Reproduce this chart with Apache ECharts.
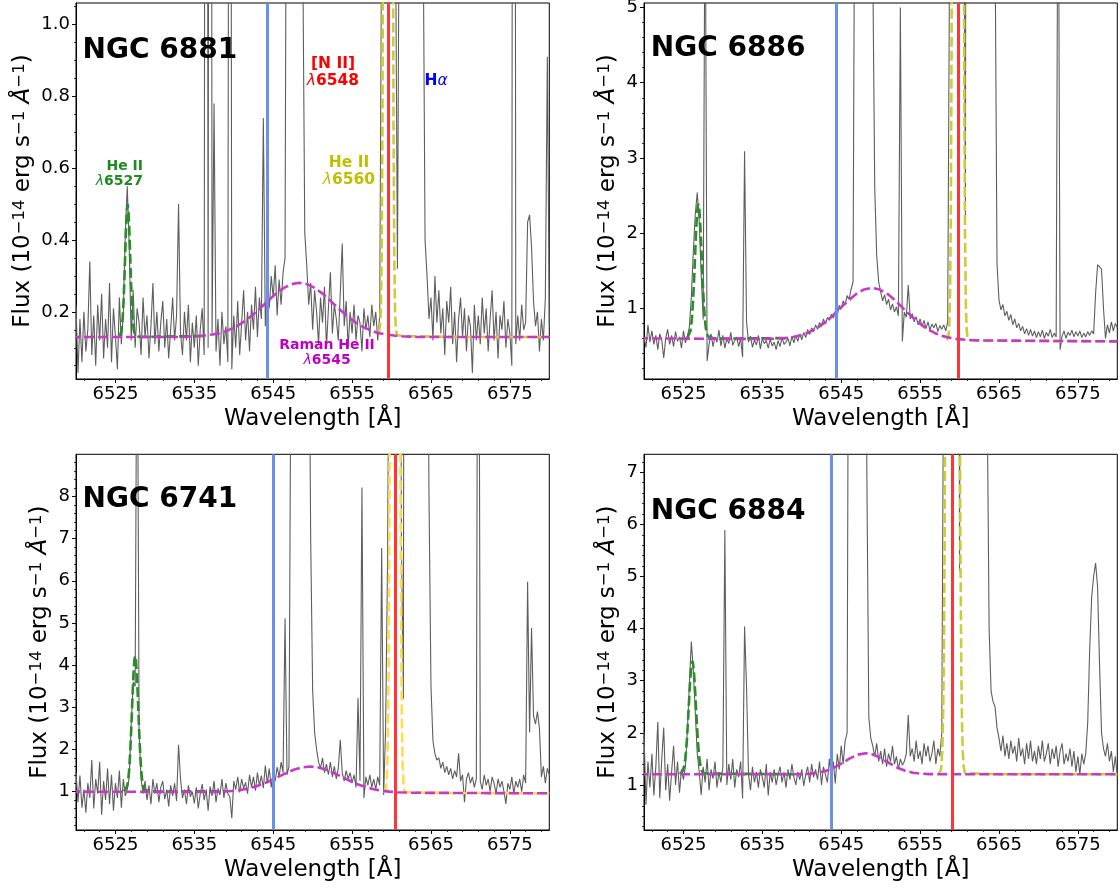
<!DOCTYPE html>
<html>
<head>
<meta charset="utf-8">
<script src="https://cdn.jsdelivr.net/npm/echarts@6/dist/echarts.min.js"></script>
<style>
  html, body { margin: 0; padding: 0; background: #fff; }
  #chart { width: 1120px; height: 889px; }
</style>
</head>
<body>
<div id="chart"></div>
<script>
// Spectra sampled on a regular wavelength grid (Angstrom), 0.25 A per sample from 6520 to 6580.
const WL_START = 6520;
const WL_STEP = 0.25;

// Observed flux, NGC 6881 (10^-14 erg s^-1 A^-1); one row per Angstrom
const flux6881 = [
  0.22, 0.03, 0.18, 0.06,   0.20, 0.09, 0.15, 0.34,   0.08, 0.19, 0.05, 0.22,   0.12, 0.25, 0.07, 0.18,
  0.10, 0.28, 0.06, 0.21,   0.13, 0.04, 0.24, 0.11,   0.20, 0.42, 0.55, 0.38,   0.12, 0.26, 0.10, 0.21,
  0.17, 0.08, 0.24, 0.13,   0.19, 0.07, 0.16, 0.28,   0.11, 0.20, 0.09, 0.17,   0.23, 0.10, 0.18, 0.07,
  0.15, 0.24, 0.12, 0.19,   0.50, 0.14, 0.08, 0.20,   0.12, 0.22, 0.06, 0.17,   0.10, 0.19, 0.05, 0.15,
  0.21, 0.08, 5.0, 0.10,    6.0, 0.14, 0.78, 0.09,    0.18, 0.05, 0.20, 0.11,   0.16, 0.06, 4.0, 0.04,
  0.19, 0.10, 0.23, 0.08,   0.17, 0.26, 0.12, 0.20,   0.09, 0.22, 0.15, 0.27,   0.13, 0.24, 0.18, 0.74,
  0.16, 0.28, 0.21, 0.30,   0.24, 0.33, 0.19, 0.29,   0.22, 0.31, 0.35, 2.2,    9.0, 25, 40, 40,
  25, 10, 3.0, 1.2,         0.42, 0.33, 0.22, 0.28,   0.15, 0.26, 0.20, 0.11,   0.24, 0.17, 0.27, 0.10,
  0.21, 0.31, 0.14, 0.22,   0.18, 0.12, 0.25, 0.39,   0.16, 0.23, 0.10, 0.20,   0.14, 0.22, 0.12, 0.19,
  0.17, 0.09, 0.21, 0.15,   0.19, 0.13, 0.22, 0.16,   0.20, 0.12, 0.19, 1.3,    12, 30, 40, 35,
  15, 8.0, 1.3, 0.32,       1.5, 20, 50, 80,          100, 100, 90, 70,         45, 25, 12, 5.0,
  1.3, 0.40, 0.30, 0.18,    0.24, 0.12, 0.30, 0.17,   0.26, 0.14, 0.21, 0.08,   0.23, 0.17, 0.27, 0.11,
  0.20, 0.06, 0.18, 0.24,   0.13, 0.21, 0.09, 0.19,   0.16, 0.03, 0.22, 0.12,   0.19, 0.11, 0.24, 0.14,
  0.21, 0.09, 0.18, 0.26,   0.12, 0.20, 0.07, 0.19,   0.15, 0.23, 0.10, 0.18,   0.14, 0.05, 6.0, 0.11,
  0.19, 0.12, 0.22, 0.15,   0.17, 0.45, 0.47, 0.38,   0.23, 0.16, 0.20, 0.09,   0.18, 0.12, 0.24, 0.91,
  0.16
];

// Observed flux, NGC 6886
const flux6886 = [
  0.62, 0.48, 0.78, 0.55,   0.70, 0.52, 0.64, 0.45,   0.66, 0.58, 0.34, 0.60,   0.72, 0.52, 0.64, 0.49,
  0.69, 0.56, 0.62, 0.47,   0.70, 0.54, 0.63, 0.75,   1.15, 1.75, 2.25, 2.54,   2.15, 1.45, 0.85, 7.0,
  0.30, 0.52, 0.66, 0.49,   0.62, 0.55, 0.71, 0.50,   0.64, 0.47, 0.60, 0.53,   0.68, 0.51, 0.57, 0.62,
  0.49, 0.60, 0.35, 3.09,   0.82, 0.55, 0.63, 0.48,   0.58, 0.51, 0.64, 0.46,   0.60, 0.53, 0.57, 0.47,
  0.59, 0.50, 0.55, 0.45,   0.57, 0.49, 0.61, 0.52,   0.55, 0.60, 0.50, 0.63,   0.54, 0.64, 0.56, 0.66,
  0.58, 0.68, 0.61, 0.72,   0.65, 0.74, 0.69, 0.78,   0.72, 0.81, 0.76, 0.86,   0.79, 0.88, 0.84, 0.92,
  0.87, 0.96, 0.91, 1.04,   0.99, 1.10, 1.05, 1.17,   1.12, 1.25, 1.35, 8.0,    30, 60, 80, 80,
  60, 35, 18, 9.0,          5.6, 2.6, 1.7, 1.35,      1.22, 1.10, 1.18, 1.05,   1.12, 0.98, 1.06, 0.95,
  1.02, 0.90, 5.0, 0.56,    0.95, 0.88, 1.31, 0.86,   0.93, 0.82, 0.89, 0.78,   0.86, 0.76, 0.84, 0.73,
  0.82, 0.71, 0.79, 0.74,   0.80, 0.69, 0.77, 0.72,   0.78, 0.70, 0.82, 6.0,    40, 120, 200, 220,
  150, 60, 8.0, 2.2,        30, 100, 200, 300,        350, 350, 300, 200,       120, 60, 30, 15,
  12, 8.0, 6.0, 1.6,        1.11, 0.98, 1.05, 0.90,   0.96, 0.84, 0.92, 0.78,   0.86, 0.74, 0.80, 0.70,
  0.76, 0.66, 0.73, 0.64,   0.72, 0.63, 0.70, 0.61,   0.69, 0.62, 0.71, 0.60,   0.68, 0.63, 0.72, 0.61,
  0.67, 0.62, 8.0, 0.45,    0.63, 0.70, 0.60, 0.68,   0.64, 0.71, 0.62, 0.69,   0.63, 0.70, 0.61, 0.67,
  0.62, 0.69, 0.64, 0.70,   0.66, 1.20, 1.58, 1.58,   1.52, 1.00, 0.60, 0.78,   0.67, 0.82, 0.70, 0.80,
  0.74
];

// Observed flux, NGC 6741
const flux6741 = [
  1.45, 0.75, 1.38, 0.62,   1.05, 0.50, 1.20, 0.85,   1.75, 0.60, 1.30, 0.95,   1.70, 0.45, 1.25, 0.80,
  1.55, 0.70, 1.40, 0.55,   1.20, 0.85, 1.50, 0.62,   1.30, 0.90, 1.05, 1.35,   2.60, 3.60, 3.50, 14.0,
  2.40, 1.30, 0.95, 1.25,   0.80, 1.15, 0.70, 1.30,   0.95, 1.20, 0.75, 1.10,   1.25, 0.82, 1.05, 0.65,
  1.15, 0.90, 1.20, 0.78,   2.11, 1.30, 0.85, 1.05,   0.70, 1.15, 0.88, 1.00,   0.72, 1.10, 0.60, 0.95,
  1.18, 0.80, 1.05, 0.55,   1.12, 0.90, 1.25, 0.75,   1.08, 0.92, 1.30, 0.85,   1.20, 0.95, 0.88, 0.37,
  1.25, 1.05, 1.35, 0.98,   1.30, 1.08, 1.22, 0.95,   1.40, 1.10, 1.35, 1.02,   1.45, 1.15, 1.38, 1.08,
  1.62, 1.20, 1.55, 1.10,   1.45, 1.25, 1.58, 1.35,   1.70, 1.45, 5.11, 1.40,   1.60, 12, 60, 120,
  150, 150, 120, 70,        35, 18, 14, 7.0,          3.4, 2.4, 2.0, 1.7,       1.55, 1.80, 1.45, 1.65,
  1.40, 1.70, 1.35, 1.60,   1.30, 1.55, 2.23, 1.45,   1.25, 1.50, 1.30, 1.45,   1.20, 1.40, 1.10, 3.22,
  1.25, 8.21, 0.85, 1.35,   1.15, 1.40, 1.10, 1.30,   1.05, 1.35, 1.15, 6.78,   0.92, 2.5, 6.5, 15,
  40, 70, 80, 60,           25, 7.0, 3.2, 40,         150, 250, 250, 200,       120, 70, 40, 25,
  20, 17, 15, 8.0,          3.5, 2.2, 1.9, 1.75,      1.80, 1.55, 1.70, 1.45,   1.60, 1.40, 1.55, 1.30,
  1.50, 1.35, 1.91, 1.25,   1.40, 0.75, 1.30, 1.45,   1.20, 1.35, 1.10, 1.30,   20, 1.25, 1.05, 1.40,
  1.15, 1.30, 1.00, 1.35,   1.20, 0.95, 1.30, 1.10,   1.25, 1.00, 0.71, 1.20,   1.05, 1.35, 0.95, 1.25,
  1.10, 1.30, 1.00, 1.40,   1.20, 5.98, 2.40, 4.88,   2.80, 2.60, 2.90, 2.50,   1.35, 1.60, 1.20, 1.55,
  1.40
];

// Observed flux, NGC 6884
const flux6884 = [
  2.02, 0.62, 1.45, 0.95,   1.60, 0.80, 1.35, 2.21,   0.75, 1.50, 2.10, 0.90,   1.40, 0.70, 1.25, 1.75,
  1.00, 1.45, 0.85, 1.30,   1.10, 1.35, 2.05, 2.92,   3.75, 3.20, 2.40, 1.60,   1.25, 0.81, 1.35, 1.05,
  1.50, 0.90, 1.30, 1.12,   1.45, 0.95, 1.25, 1.05,   1.35, 5.89, 1.00, 1.40,   1.10, 1.50, 0.95, 1.30,
  1.15, 1.45, 0.74, 4.04,   2.86, 1.20, 0.90, 1.35,   1.05, 1.25, 0.95, 1.30,   1.15, 0.95, 1.40, 0.80,
  1.25, 1.05, 1.30, 1.00,   1.20, 1.35, 1.05, 1.25,   0.95, 1.30, 1.10, 1.40,   1.15, 1.00, 1.25, 1.10,
  1.30, 0.98, 1.20, 1.35,   1.05, 1.40, 1.15, 1.30,   1.10, 1.45, 1.00, 1.35,   1.20, 1.05, 1.50, 1.15,
  1.45, 1.03, 1.60, 1.30,   1.75, 1.40, 1.85, 2.0,    15, 50, 90, 110,          110, 90, 60, 35,
  14, 7.0, 2.3, 1.9,        1.75, 1.55, 1.80, 1.45,   1.65, 1.40, 1.70, 1.35,   1.60, 1.45, 1.75, 1.40,
  1.55, 1.30, 1.50, 1.38,   1.45, 1.60, 2.34, 1.55,   1.70, 1.45, 1.85, 1.50,   1.65, 1.40, 1.80, 1.55,
  1.75, 1.45, 1.60, 1.85,   1.40, 1.70, 1.55, 2.0,    10, 40, 80, 110,          120, 100, 60, 25,
  5.1, 20, 80, 150,         200, 220, 200, 150,       100, 60, 35, 20,          20, 13, 8.5, 4.0,
  2.8, 2.6, 2.5, 2.1,       1.90, 1.65, 1.95, 1.55,   1.80, 1.50, 1.85, 1.60,   1.75, 1.45, 1.90, 1.55,
  1.70, 1.40, 1.80, 1.50,   1.85, 1.45, 1.65, 1.40,   1.75, 1.50, 1.85, 1.45,   1.60, 1.80, 1.40, 1.70,
  1.50, 1.75, 1.35, 1.65,   1.80, 1.40, 1.60, 1.45,   1.70, 1.35, 1.65, 1.25,   1.55, 1.20, 1.60, 1.40,
  1.60, 2.20, 3.60, 4.60,   5.00, 5.26, 4.80, 3.30,   2.00, 1.70, 1.55, 1.80,   1.45, 1.65, 1.25, 1.55,
  1.15
];

// Fitted He II 6527 profiles (wavelength, flux)
const heii6527Wl6881 = [6525.55, 6525.65, 6525.75, 6525.85, 6525.95, 6526.05, 6526.15, 6526.25, 6526.35, 6526.45, 6526.55, 6526.65, 6526.75, 6526.85, 6526.95, 6527.05, 6527.15, 6527.25, 6527.35, 6527.45, 6527.55, 6528.0, 6536.5];
const heii6527Fx6881 = [0.133, 0.137, 0.146, 0.164, 0.194, 0.239, 0.300, 0.369, 0.434, 0.482, 0.500, 0.482, 0.434, 0.369, 0.300, 0.239, 0.194, 0.164, 0.146, 0.137, 0.133, 0.130, 0.133];
const heii6527Wl6886 = [6525.49, 6525.69, 6525.89, 6525.99, 6526.09, 6526.19, 6526.29, 6526.39, 6526.49, 6526.59, 6526.69, 6526.79, 6526.89, 6526.99, 6527.09, 6527.19, 6527.29, 6527.39, 6527.49, 6527.59, 6527.69, 6527.79, 6527.89, 6528.09, 6528.29, 6529.0, 6538.0];
const heii6527Fx6886 = [0.605, 0.63, 0.70, 0.78, 0.89, 1.05, 1.25, 1.48, 1.74, 1.99, 2.20, 2.34, 2.39, 2.34, 2.20, 1.99, 1.74, 1.48, 1.25, 1.05, 0.89, 0.78, 0.70, 0.63, 0.605, 0.597, 0.604];
const heii6527Wl6741 = [6526.1, 6526.3, 6526.5, 6526.6, 6526.7, 6526.8, 6526.9, 6527.0, 6527.1, 6527.2, 6527.3, 6527.4, 6527.5, 6527.6, 6527.7, 6527.8, 6527.9, 6528.0, 6528.1, 6528.2, 6528.3, 6528.4, 6528.5, 6528.7, 6528.9, 6530.0, 6539.0];
const heii6527Fx6741 = [1.006, 1.035, 1.14, 1.26, 1.43, 1.70, 2.05, 2.47, 2.95, 3.43, 3.84, 4.12, 4.22, 4.12, 3.84, 3.43, 2.95, 2.47, 2.05, 1.70, 1.43, 1.26, 1.14, 1.035, 1.006, 1.0, 1.01];
const heii6527Wl6884 = [6524.53, 6524.73, 6524.93, 6525.13, 6525.23, 6525.33, 6525.43, 6525.53, 6525.63, 6525.73, 6525.83, 6525.93, 6526.03, 6526.13, 6526.23, 6526.33, 6526.43, 6526.53, 6526.63, 6526.73, 6526.83, 6526.93, 6527.03, 6527.13, 6527.33, 6527.53, 6527.73, 6539.0];
const heii6527Fx6884 = [1.209, 1.22, 1.27, 1.39, 1.50, 1.65, 1.85, 2.10, 2.375, 2.67, 2.94, 3.17, 3.32, 3.375, 3.32, 3.17, 2.94, 2.67, 2.375, 2.10, 1.85, 1.65, 1.50, 1.39, 1.27, 1.22, 1.209, 1.205];

// Fitted He II 6560 profiles
const heii6560Wl6881 = [6558.40, 6558.55, 6558.65, 6558.75, 6558.85, 6558.95, 6559.05, 6559.15, 6559.25, 6559.35, 6559.45, 6559.55, 6559.65, 6559.75, 6559.85, 6559.95, 6560.05, 6560.15, 6560.25, 6560.35, 6560.45, 6560.55, 6560.70, 6562, 6566, 6570, 6580];
const heii6560Fx6881 = [0.143, 0.163, 0.213, 0.36, 0.74, 1.55, 3.08, 5.51, 8.70, 12.0, 14.7, 15.7, 14.7, 12.0, 8.69, 5.50, 3.07, 1.54, 0.73, 0.35, 0.20, 0.152, 0.135, 0.132, 0.131, 0.130, 0.130];
const heii6560Wl6886 = [6558.4, 6558.5, 6558.6, 6558.7, 6558.8, 6558.9, 6559.0, 6559.1, 6559.2, 6559.4, 6559.6, 6559.8, 6560.0, 6560.2, 6560.4, 6560.5, 6560.6, 6560.7, 6560.8, 6560.9, 6561.0, 6561.1, 6562, 6570, 6580];
const heii6560Fx6886 = [0.574, 0.585, 0.628, 0.768, 1.18, 2.24, 4.69, 9.7, 18.8, 52.6, 97.8, 118.6, 93.7, 48.4, 16.6, 8.4, 4.0, 1.95, 1.06, 0.727, 0.615, 0.58, 0.571, 0.565, 0.56];
const heii6560Wl6741 = [6559.0, 6559.08, 6559.18, 6559.28, 6559.38, 6559.48, 6559.58, 6559.68, 6559.78, 6559.88, 6560.08, 6560.28, 6560.44, 6560.6, 6560.8, 6561.0, 6561.1, 6561.2, 6561.3, 6561.4, 6561.5, 6561.6, 6561.7, 6561.8, 6565, 6580];
const heii6560Fx6741 = [0.975, 0.977, 0.995, 1.05, 1.23, 1.70, 2.86, 5.35, 10.2, 18.2, 45.9, 78, 89, 78, 45.9, 18.2, 10.2, 5.35, 2.86, 1.70, 1.23, 1.05, 0.993, 0.975, 0.97, 0.96];
const heii6560Wl6884 = [6557.31, 6557.41, 6557.51, 6557.61, 6557.71, 6557.81, 6557.91, 6558.01, 6558.11, 6558.21, 6558.31, 6558.51, 6558.71, 6558.91, 6559.11, 6559.31, 6559.51, 6559.71, 6559.91, 6560.01, 6560.11, 6560.21, 6560.31, 6560.41, 6560.51, 6560.61, 6560.71, 6560.81, 6560.91, 6565, 6580];
const heii6560Fx6884 = [1.207, 1.213, 1.229, 1.273, 1.385, 1.649, 2.225, 3.40, 5.64, 9.5, 15.9, 38.5, 74, 110, 125, 110, 74, 38.5, 15.9, 9.5, 5.64, 3.40, 2.225, 1.649, 1.385, 1.273, 1.229, 1.213, 1.207, 1.205, 1.205];

// Fitted broad Raman He II 6545 profiles
const ramanWl6881 = [6520, 6533.3, 6534.3, 6535.3, 6536.3, 6537.3, 6538.3, 6539.3, 6540.3, 6541.3, 6542.3, 6543.3, 6544.3, 6545.3, 6546.3, 6547.3, 6548.3, 6549.3, 6550.3, 6551.3, 6552.3, 6553.3, 6554.3, 6555.3, 6556.3, 6557.3, 6558.3, 6559.3, 6560.3, 6561.3, 6562.3, 6563.3, 6580];
const ramanFx6881 = [0.130, 0.130, 0.131, 0.132, 0.134, 0.137, 0.141, 0.149, 0.159, 0.173, 0.190, 0.209, 0.230, 0.250, 0.266, 0.277, 0.281, 0.277, 0.266, 0.250, 0.230, 0.209, 0.190, 0.173, 0.159, 0.149, 0.141, 0.137, 0.134, 0.132, 0.131, 0.130, 0.130];
const ramanWl6886 = [6520, 6534.9, 6535.9, 6536.9, 6537.9, 6538.9, 6539.9, 6540.9, 6541.9, 6542.9, 6543.9, 6544.9, 6545.9, 6546.9, 6547.9, 6548.9, 6549.9, 6550.9, 6551.9, 6552.9, 6553.9, 6554.9, 6555.9, 6556.9, 6557.9, 6558.9, 6559.9, 6560.9, 6561.9, 6562.9, 6580];
const ramanFx6886 = [0.600, 0.592, 0.594, 0.597, 0.604, 0.618, 0.642, 0.679, 0.735, 0.809, 0.900, 1.002, 1.104, 1.191, 1.251, 1.271, 1.249, 1.189, 1.100, 0.996, 0.894, 0.801, 0.725, 0.669, 0.630, 0.604, 0.590, 0.581, 0.576, 0.573, 0.560];
const ramanWl6741 = [6520, 6535.7, 6536.7, 6537.7, 6538.7, 6539.7, 6540.7, 6541.7, 6542.7, 6543.7, 6544.7, 6545.7, 6546.7, 6547.7, 6548.7, 6549.7, 6550.7, 6551.7, 6552.7, 6553.7, 6554.7, 6555.7, 6556.7, 6557.7, 6558.7, 6559.7, 6560.7, 6561.7, 6562.7, 6563.7, 6580];
const ramanFx6741 = [1.000, 0.991, 0.992, 0.995, 1.001, 1.014, 1.035, 1.068, 1.118, 1.184, 1.265, 1.356, 1.446, 1.524, 1.577, 1.595, 1.575, 1.522, 1.442, 1.350, 1.259, 1.176, 1.108, 1.058, 1.023, 1.000, 0.987, 0.979, 0.974, 0.972, 0.960];
const ramanWl6884 = [6520, 6538.1, 6539.1, 6540.1, 6541.1, 6542.1, 6543.1, 6544.1, 6545.1, 6546.1, 6547.1, 6548.1, 6549.1, 6550.1, 6551.1, 6552.1, 6553.1, 6554.1, 6555.1, 6556.1, 6557.1, 6558.1, 6580];
const ramanFx6884 = [1.205, 1.205, 1.206, 1.209, 1.217, 1.236, 1.273, 1.334, 1.418, 1.509, 1.582, 1.610, 1.582, 1.509, 1.418, 1.334, 1.273, 1.236, 1.217, 1.209, 1.206, 1.205, 1.205];

// Reference wavelengths marked by vertical lines (per nebula)
const ramanCentre = [6544.2, 6544.4, 6545.0, 6543.7];
const heii6560Centre = [6559.6, 6559.85, 6560.5, 6559.1];

// Axis ticks
const xTicks = [6525, 6535, 6545, 6555, 6565, 6575];
const yTicks6881 = [0.2, 0.4, 0.6, 0.8, 1.0];
const yTicks6886 = [1, 2, 3, 4, 5];
const yTicks6741 = [1, 2, 3, 4, 5, 6, 7, 8];
const yTicks6884 = [1, 2, 3, 4, 5, 6, 7];

const FONT = 'DejaVu Sans';

function steps(from, to, step) {
  const out = [];
  for (let v = from; v <= to + 1e-9; v += step) out.push(+v.toFixed(3));
  return out;
}
function sampleGrid(n) {
  const out = [];
  for (let i = 0; i < n; i++) out.push(+(WL_START + i * WL_STEP).toFixed(2));
  return out;
}
function zip(wl, fx) { return wl.map((w, i) => [w, fx[i]]); }

const panels = [
  { title: 'NGC 6881', flux: flux6881, yMin: 0.013, yMax: 1.06, yTicks: yTicks6881, yMinor: steps(0.05, 1.05, 0.05), digits: 1, nameGap: 41.5,
    grid: { left: 76, top: 3, width: 473.3, height: 376 }, titlePos: [82.5, 51],
    heA: [heii6527Wl6881, heii6527Fx6881], heB: [heii6560Wl6881, heii6560Fx6881], raman: [ramanWl6881, ramanFx6881], yellow: '#cccc3a' },
  { title: 'NGC 6886', flux: flux6886, yMin: 0.06, yMax: 5.06, yTicks: yTicks6886, yMinor: steps(0.2, 5.0, 0.2), digits: 0, nameGap: 24.5,
    grid: { left: 644, top: 3, width: 473.3, height: 376 }, titlePos: [650.8, 48.3],
    heA: [heii6527Wl6886, heii6527Fx6886], heB: [heii6560Wl6886, heii6560Fx6886], raman: [ramanWl6886, ramanFx6886], yellow: '#cccc3a' },
  { title: 'NGC 6741', flux: flux6741, yMin: 0.09, yMax: 9.0, yTicks: yTicks6741, yMinor: steps(0.2, 8.8, 0.2), digits: 0, nameGap: 24.5,
    grid: { left: 76, top: 454.3, width: 473.3, height: 375.7 }, titlePos: [82.5, 500],
    heA: [heii6527Wl6741, heii6527Fx6741], heB: [heii6560Wl6741, heii6560Fx6741], raman: [ramanWl6741, ramanFx6741], yellow: '#ffdc4a' },
  { title: 'NGC 6884', flux: flux6884, yMin: 0.136, yMax: 7.345, yTicks: yTicks6884, yMinor: steps(0.2, 7.2, 0.2), digits: 0, nameGap: 24.5,
    grid: { left: 644, top: 454.3, width: 473.3, height: 375.7 }, titlePos: [650.8, 511.4],
    heA: [heii6527Wl6884, heii6527Fx6884], heB: [heii6560Wl6884, heii6560Fx6884], raman: [ramanWl6884, ramanFx6884], yellow: '#cccc3a' }
];

const xMinor = steps(6521, 6579, 2);
const grids = [], xAxes = [], yAxes = [], series = [], graphics = [];

const yName = '{n|Flux (10}{s|\u221214}{n| erg s}{s|\u22121}{n| }{a|\u00c5}{s|\u22121}{n|)}';
const yNameRich = {
  n: { fontSize: 23, fontFamily: FONT, color: '#000', verticalAlign: 'bottom', lineHeight: 23 },
  a: { fontSize: 23, fontFamily: FONT, color: '#000', fontStyle: 'italic', verticalAlign: 'bottom', lineHeight: 23 },
  s: { fontSize: 16.5, fontFamily: FONT, color: '#000', verticalAlign: 'top', lineHeight: 16.5, padding: [0, 0, 14, 0] }
};

panels.forEach((p, i) => {
  grids.push(Object.assign({ show: true, borderColor: '#000', borderWidth: 1, backgroundColor: '#fff', containLabel: false, outerBoundsMode: 'none' }, p.grid));

  xAxes.push({
    type: 'value', gridIndex: i, position: 'bottom', min: 6520, max: 6580,
    axisLine: { show: true, onZero: false, lineStyle: { color: '#000', width: 1 } },
    axisTick: { show: true, customValues: xTicks, length: 4, lineStyle: { color: '#000', width: 1 } },
    axisLabel: { customValues: xTicks, fontSize: 18, fontFamily: FONT, color: '#000', margin: 6,
                 formatter: v => String(Math.round(v)) },
    splitLine: { show: false },
    name: 'Wavelength [\u00c5]', nameLocation: 'middle', nameGap: 29, nameMoveOverlap: false,
    nameTextStyle: { fontSize: 23, fontFamily: FONT, color: '#000' }
  });
  xAxes.push({
    type: 'value', gridIndex: i, position: 'bottom', min: 6520, max: 6580,
    axisLine: { show: false },
    axisTick: { show: true, customValues: xMinor, length: 2, lineStyle: { color: '#000', width: 0.8 } },
    axisLabel: { show: false }, splitLine: { show: false }
  });

  yAxes.push({
    type: 'value', gridIndex: i, position: 'left', min: p.yMin, max: p.yMax,
    axisLine: { show: true, onZero: false, lineStyle: { color: '#000', width: 1 } },
    axisTick: { show: true, customValues: p.yTicks, length: 4, lineStyle: { color: '#000', width: 1 } },
    axisLabel: { customValues: p.yTicks, fontSize: 18, fontFamily: FONT, color: '#000', margin: 6,
                 formatter: v => Number(v).toFixed(p.digits) },
    splitLine: { show: false },
    name: yName, nameLocation: 'middle', nameGap: p.nameGap, nameMoveOverlap: false,
    nameTextStyle: { rich: yNameRich }
  });
  yAxes.push({
    type: 'value', gridIndex: i, position: 'left', min: p.yMin, max: p.yMax,
    axisLine: { show: false },
    axisTick: { show: true, customValues: p.yMinor, length: 2, lineStyle: { color: '#000', width: 0.8 } },
    axisLabel: { show: false }, splitLine: { show: false }
  });

  const xi = 2 * i, yi = 2 * i;
  const dashed = (color) => ({ color: color, width: 2.6, type: [10, 4] });

  series.push({
    type: 'line', xAxisIndex: xi, yAxisIndex: yi, showSymbol: false, symbol: 'none', z: 2,
    data: zip(sampleGrid(p.flux.length), p.flux),
    lineStyle: { color: '#5e5e5e', width: 1.1 },
    markLine: {
      silent: true, symbol: 'none', label: { show: false }, animation: false,
      data: [
        { xAxis: ramanCentre[i], lineStyle: { color: '#6a8fec', width: 3, type: 'solid' } },
        { xAxis: heii6560Centre[i], lineStyle: { color: '#ff3636', width: 3, type: 'solid' } }
      ]
    }
  });
  series.push({ type: 'line', xAxisIndex: xi, yAxisIndex: yi, showSymbol: false, symbol: 'none', z: 3,
    data: zip(p.heA[0], p.heA[1]), lineStyle: dashed('#2a8c2a') });
  series.push({ type: 'line', xAxisIndex: xi, yAxisIndex: yi, showSymbol: false, symbol: 'none', z: 3.5,
    data: zip(p.heB[0], p.heB[1]), lineStyle: dashed(p.yellow) });
  series.push({ type: 'line', xAxisIndex: xi, yAxisIndex: yi, showSymbol: false, symbol: 'none', z: 4,
    data: zip(p.raman[0], p.raman[1]), lineStyle: Object.assign(dashed('#c73ac7'), { dashOffset: 6 }) });

  graphics.push({
    type: 'text', x: p.titlePos[0], y: p.titlePos[1], z: 100,
    style: { text: p.title, fill: '#000', fontSize: 28, fontWeight: 'bold', fontFamily: FONT,
             align: 'left', verticalAlign: 'middle' }
  });
});

// Line identifications in the NGC 6881 panel
function label(x, y, text, color, size, lh, align) {
  return {
    type: 'text', x: x, y: y, z: 100,
    style: {
      text: text, align: align || 'center', verticalAlign: 'middle', fill: color,
      rich: {
        b: { fontSize: size, fontWeight: 'bold', fontFamily: FONT, fill: color, lineHeight: lh },
        i: { fontSize: size, fontStyle: 'italic', fontFamily: FONT, fill: color, lineHeight: lh }
      }
    }
  };
}
graphics.push(label(143, 173.5, '{b|He II}\n{i|\u03bb}{b|6527}', '#1f8a1f', 14, 15, 'right'));
graphics.push(label(333, 72.7, '{b|[N II]}\n{i|\u03bb}{b|6548}', '#ff0000', 15.5, 16.5));
graphics.push(label(349, 171.7, '{b|He II}\n{i|\u03bb}{b|6560}', '#bfbf00', 15.5, 16.7));
graphics.push(label(436, 81, '{b|H}{i|\u03b1}', '#0000ff', 15.5, 16.5));
graphics.push(label(327, 352.5, '{b|Raman He II}\n{i|\u03bb}{b|6545}', '#bf00bf', 14, 15));

const chart = echarts.init(document.getElementById('chart'), null, { renderer: 'canvas' });
chart.setOption({
  animation: false,
  backgroundColor: '#fff',
  grid: grids,
  xAxis: xAxes,
  yAxis: yAxes,
  series: series,
  graphic: graphics
});
</script>
</body>
</html>
